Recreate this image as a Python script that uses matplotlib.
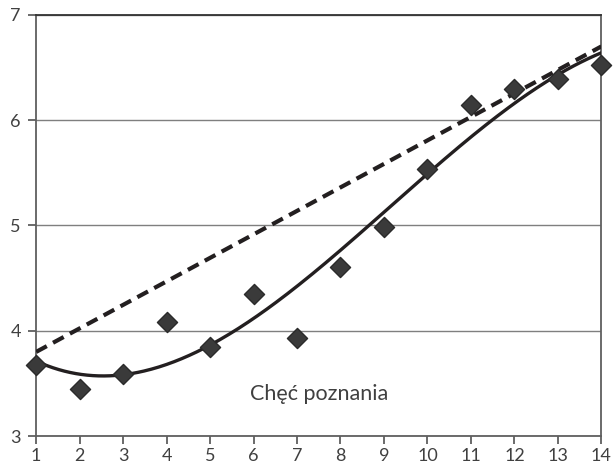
import numpy as np
import matplotlib
matplotlib.use("Agg")
import matplotlib.pyplot as plt

plt.rcParams['font.family'] = ['Lato', 'DejaVu Sans']

# dane
x_vals = [1, 2, 3, 4, 5, 6, 7, 8, 9, 10, 11, 12, 13, 14]
y_vals = [3.68, 3.45, 3.59, 4.08, 3.85, 4.35, 3.93, 4.61, 4.99, 5.54, 6.14, 6.30, 6.39, 6.52]
# linia przerywana - wartosci na koncach
line_x = [1, 14]
line_y = [3.80, 6.70]
label_text = 'Chęć poznania'

fig, ax = plt.subplots(figsize=(6.13, 4.63), dpi=100)
fig.subplots_adjust(left=0.059, right=0.981, top=0.968, bottom=0.058)

# trend wielomianowy 3 stopnia
coef = np.polyfit(x_vals, y_vals, 3)
xs = np.linspace(1, 14, 300)
ax.plot(xs, np.polyval(coef, xs), color='#231f20', lw=2.4, zorder=3)
ax.plot(line_x, line_y, color='#231f20', lw=3.0, ls=(0, (2.9, 1.7)), zorder=3)
ax.scatter(x_vals, y_vals, marker='D', s=105, color='#3a3a3a', edgecolors='#2a2a2a', zorder=4, clip_on=False)

ax.set_xlim(1, 14)
ax.set_ylim(3, 7)
ax.set_xticks(range(1, 15))
ax.set_yticks([3, 4, 5, 6, 7])
ax.grid(axis='y', color='#7f7f7f', lw=1.0)
ax.set_axisbelow(True)
for s in ['left', 'bottom', 'right']:
    ax.spines[s].set_color('#5f5f5f')
    ax.spines[s].set_linewidth(1.3)
ax.spines['top'].set_color('#333333')
ax.spines['top'].set_linewidth(1.3)
ax.tick_params(axis='both', colors='#5f5f5f', labelcolor='#404040', labelsize=13, length=6, width=1.3)
ax.tick_params(axis='x', pad=2.5)
ax.tick_params(axis='y', pad=5)

ax.text(7.5, 3.4, label_text, fontsize=15.5, color='#404040', ha='center', va='center')

plt.savefig('out.png', dpi=100)
